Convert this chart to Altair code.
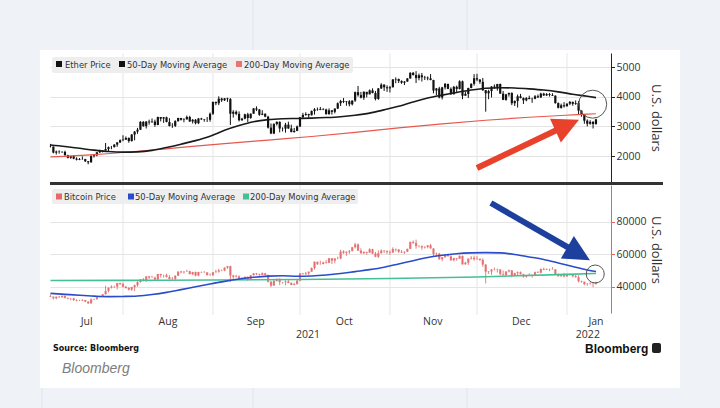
import altair as alt
import pandas as pd

# ---------------- data ----------------
first_day = "2021-07-07"
eth_prev_close = 2323
eth_close = [
    2317, 2115, 2150, 2140, 2140, 2030, 1940, 1995, 1910, 1875, 1900, 1895, 1820, 1785, 1995, 2025, 2125, 2190, 2190, 2235, 2300, 2300, 2385, 2460, 2535,
    2555, 2610, 2505, 2725, 2825, 2890, 3155, 3010, 3165, 3140, 3165, 3050, 3320, 3265, 3310, 3150, 3015, 3020, 3180, 3285, 3225, 3240, 3320, 3170, 3225, 3110, 3270, 3240, 3225, 3225, 3430,
    3830, 3785, 3940, 3885, 3950, 3925, 3430, 3495, 3425, 3210, 3265, 3410, 3285, 3430, 3610, 3570, 3395, 3430, 3330, 2960, 2760, 3080, 3155, 2930, 2925, 3060, 2930, 2810, 2850, 3000,
    3310, 3390, 3420, 3380, 3520, 3580, 3590, 3560, 3575, 3415, 3545, 3495, 3605, 3785, 3860, 3830, 3850, 3750, 3875, 4160, 4060, 3970, 4170, 4085, 4220, 4130, 3930, 4285, 4415, 4325, 4290,
    4325, 4590, 4605, 4535, 4480, 4520, 4620, 4815, 4740, 4635, 4730, 4665, 4650, 4625, 4570, 4215, 4285, 3980, 4320, 4440, 4270, 4090, 4340, 4270, 4525, 4040, 4100, 4300, 4440, 4630,
    4585, 4510, 4225, 4120, 4195, 4350, 4310, 4435, 4110, 3900, 4085, 4135, 3785, 3860, 4020, 3960, 3885, 3960, 3925, 3935, 4020, 3985, 4110, 4050, 4095, 4065, 4040, 3790, 3630, 3715, 3680,
    3770, 3830, 3765, 3790, 3535, 3410, 3195, 3090, 3155, 3080, 3240,
]
eth_high = [
    2410, 2320, 2185, 2190, 2165, 2180, 2040, 2005, 2035, 1955, 1930, 1985, 1905, 1830, 2030, 2045, 2130, 2215, 2200, 2440, 2320, 2340, 2400, 2470, 2560,
    2700, 2660, 2630, 2740, 2840, 2950, 3180, 3180, 3180, 3230, 3270, 3230, 3330, 3300, 3320, 3330, 3280, 3110, 3210, 3295, 3290, 3280, 3370, 3360, 3250, 3250, 3280, 3290, 3250, 3320, 3470,
    3840, 3840, 4020, 3970, 3960, 3970, 3960, 3550, 3540, 3510, 3290, 3430, 3460, 3440, 3620, 3680, 3590, 3550, 3440, 3360, 3100, 3110, 3170, 3170, 2970, 3120, 3160, 3060, 2950, 3030,
    3320, 3460, 3480, 3430, 3540, 3620, 3640, 3660, 3620, 3600, 3610, 3550, 3610, 3810, 3900, 3960, 3860, 3890, 3880, 4180, 4370, 4170, 4190, 4170, 4250, 4290, 4200, 4300, 4460, 4420, 4390,
    4370, 4600, 4660, 4620, 4560, 4530, 4640, 4830, 4840, 4870, 4790, 4810, 4710, 4690, 4770, 4580, 4300, 4340, 4340, 4470, 4440, 4320, 4370, 4380, 4560, 4550, 4180, 4310, 4460, 4770,
    4780, 4600, 4640, 4230, 4240, 4360, 4420, 4440, 4450, 4200, 4100, 4140, 4150, 3880, 4080, 4100, 3980, 3990, 4040, 3970, 4060, 4080, 4140, 4140, 4130, 4130, 4125, 4050, 3810, 3770, 3820,
    3780, 3860, 3840, 3880, 3860, 3540, 3420, 3240, 3210, 3180, 3260,
]
eth_low = [
    2290, 2090, 2050, 2080, 2100, 2010, 1920, 1905, 1890, 1850, 1860, 1875, 1800, 1720, 1780, 1950, 1990, 2100, 2120, 2180, 2160, 2230, 2290, 2310, 2440,
    2500, 2540, 2450, 2490, 2530, 2750, 2880, 2990, 2930, 3060, 3130, 2990, 3040, 3170, 3120, 3140, 3000, 2950, 2980, 3160, 3200, 3140, 3230, 3150, 3100, 3070, 3080, 3220, 3160, 3150, 3160,
    3390, 3720, 3720, 3830, 3860, 3830, 3050, 3300, 3380, 3170, 3190, 3240, 3150, 3260, 3430, 3520, 3360, 3380, 3310, 2930, 2740, 2740, 3030, 2800, 2830, 2790, 2920, 2800, 2790, 2840,
    2980, 3290, 3360, 3280, 3370, 3400, 3530, 3550, 3550, 3400, 3400, 3400, 3440, 3590, 3690, 3790, 3700, 3680, 3710, 3830, 4010, 3950, 3900, 3980, 4090, 4120, 3880, 3900, 4270, 4200, 4170,
    4150, 4320, 4460, 4470, 4440, 4400, 4510, 4620, 4720, 4470, 4560, 4520, 4570, 4560, 4560, 4120, 4060, 3950, 3910, 4250, 4260, 4070, 4080, 4160, 4250, 3920, 4040, 3960, 4290, 4380,
    4530, 4440, 4200, 3500, 3920, 3980, 4280, 4210, 4100, 3890, 3870, 4010, 3720, 3690, 3640, 3950, 3760, 3850, 3920, 3800, 3920, 3960, 3960, 4030, 4030, 4010, 4030, 3770, 3610, 3600, 3640,
    3680, 3720, 3700, 3730, 3420, 3330, 3090, 3000, 3060, 2930, 3060,
]

btc_prev_close = 34240
btc_close = [
    33860, 32880, 33810, 33515, 34260, 33090, 32730, 32820, 31780, 31420, 31530, 31800, 30840, 29790, 32140, 32310, 33580, 34290, 35350, 37340, 39410, 39990, 40020, 42240, 41630,
    39970, 39200, 38150, 39740, 40870, 42830, 44560, 43800, 46370, 45590, 45590, 44430, 47810, 47100, 47050, 45940, 44700, 44800, 46720, 49340, 48870, 49290, 49510, 47710, 48990, 46850, 49070, 48900, 48830, 47050, 47170,
    48850, 49280, 50030, 49940, 51750, 52660, 46860, 46080, 46370, 44850, 45170, 46060, 44960, 47090, 48180, 47780, 47290, 48280, 47260, 43000, 40690, 43580, 44880, 42840, 42720, 43210, 42230, 41030, 41530, 43790,
    48170, 47780, 48240, 49250, 51520, 55340, 53810, 53970, 54970, 54660, 57480, 56040, 57400, 57360, 61670, 60880, 61530, 62030, 64260, 65990, 62210, 60690, 61390, 60930, 63040, 60360, 58480, 60620, 62230, 61890, 61320,
    61000, 63230, 62940, 61450, 61010, 61530, 63330, 67570, 66970, 64990, 64950, 64160, 64470, 65470, 63560, 60160, 60370, 56940, 58120, 59700, 58730, 56290, 57570, 57230, 58950, 53730, 54720, 57270, 57810, 56950,
    57220, 56510, 53600, 49200, 49370, 50580, 50470, 50640, 47590, 47140, 49390, 50050, 46700, 48340, 48860, 47640, 46200, 46850, 46710, 46880, 48940, 48630, 50820, 50430, 50810, 50640, 50700, 47540, 46460, 47120, 46310,
    47690, 47350, 46460, 45830, 43420, 43080, 41560, 41730, 41910, 41820, 42740,
]
btc_high = [
    35060, 33930, 34060, 34250, 34600, 34650, 33340, 33100, 33170, 32250, 31950, 32400, 31890, 31040, 32820, 32560, 33650, 34480, 35400, 40550, 39540, 40880, 40630, 42280, 42410,
    42540, 40420, 39770, 39950, 41330, 43350, 44700, 45290, 46450, 46640, 46740, 46220, 47880, 47970, 47370, 48050, 47120, 46010, 47050, 49370, 49750, 49470, 50470, 49820, 49190, 49320, 49180, 49300, 49600, 48880, 48240,
    48980, 50340, 51040, 50540, 51870, 52780, 52860, 47320, 47360, 47010, 45940, 46420, 46350, 47220, 48430, 48460, 48060, 48780, 48340, 47290, 43560, 44000, 44980, 45090, 42920, 43890, 44310, 42720, 42550, 44030,
    48380, 48340, 49130, 49340, 51880, 55580, 55290, 56060, 55420, 56450, 57760, 57660, 57480, 58490, 62820, 62400, 61670, 62560, 64460, 67000, 66620, 63660, 61720, 61550, 63640, 63310, 61460, 62400, 62920, 62330, 62400,
    62400, 64230, 63480, 63120, 62550, 61590, 63340, 67720, 68520, 68990, 65590, 65430, 64900, 65470, 66360, 63560, 60960, 60840, 58200, 59830, 60000, 59260, 57780, 57740, 59330, 59170, 55320, 57400, 58830, 59120,
    59030, 57300, 57510, 53840, 49650, 50860, 51860, 51140, 50670, 50000, 49420, 50550, 50180, 48670, 49420, 49390, 47960, 47300, 48300, 47510, 49300, 49560, 51300, 51750, 51180, 51130, 52040, 50700, 48110, 47850, 48500,
    47880, 47940, 47520, 47470, 47020, 43720, 43140, 42270, 42770, 42220, 43100,
]
btc_low = [
    33770, 32130, 32260, 33030, 33330, 32700, 32260, 31600, 31180, 31050, 31180, 31220, 30500, 29300, 29480, 31720, 32000, 33400, 33880, 35210, 36440, 38860, 39290, 38340, 41030,
    39540, 38750, 37640, 37510, 37360, 39960, 42500, 43310, 42860, 44800, 45380, 43820, 44280, 45620, 45580, 45680, 44460, 44290, 43970, 46660, 48300, 48130, 49180, 47650, 47200, 46340, 46440, 48460, 48470, 46980, 46750,
    46560, 48730, 48660, 49530, 49490, 50970, 42900, 44480, 45670, 44300, 44780, 44790, 43640, 44780, 46890, 47110, 46800, 47120, 46930, 42580, 39730, 40620, 43170, 40950, 41860, 40870, 42210, 40940, 40830, 41440,
    43340, 47460, 47200, 46960, 49150, 50540, 53440, 53640, 53700, 54150, 54480, 53910, 54360, 56880, 56830, 60220, 58990, 60200, 61620, 63540, 62050, 60100, 59980, 59670, 60860, 60020, 58100, 57670, 60270, 60700, 60100,
    59530, 60770, 61620, 60850, 60830, 60150, 61420, 63170, 66300, 63400, 64130, 62720, 63480, 63630, 63420, 58680, 58450, 56580, 55680, 57800, 58600, 55940, 55640, 55950, 57110, 53680, 53670, 53390, 56720, 55950,
    56500, 55880, 52230, 42000, 47870, 47250, 50060, 48710, 47410, 46940, 46700, 48790, 45760, 46530, 46680, 47560, 45520, 45580, 46470, 45590, 46650, 48450, 48080, 50200, 50300, 49510, 50470, 47350, 46150, 46070, 45690,
    46260, 46770, 45730, 45620, 42650, 42470, 40940, 40630, 41280, 39700, 41280,
]

ma50_dates = [
    "2021-07-07", "2021-07-12", "2021-07-17", "2021-07-22", "2021-07-27", "2021-08-01", "2021-08-06", "2021-08-11",
    "2021-08-16", "2021-08-21", "2021-08-26", "2021-08-31", "2021-09-05", "2021-09-10", "2021-09-15", "2021-09-20",
    "2021-09-25", "2021-09-30", "2021-10-05", "2021-10-10", "2021-10-15", "2021-10-20", "2021-10-25", "2021-10-30",
    "2021-11-04", "2021-11-09", "2021-11-14", "2021-11-19", "2021-11-24", "2021-11-29", "2021-12-04", "2021-12-09",
    "2021-12-14", "2021-12-19", "2021-12-24", "2021-12-29", "2022-01-03", "2022-01-08", "2022-01-11",
]
eth_ma50 = [2370, 2320, 2260, 2200, 2150, 2130, 2140, 2190, 2290, 2400, 2520, 2670, 2870, 3030, 3160, 3230, 3260, 3270, 3280, 3300,
            3330, 3380, 3450, 3560, 3680, 3830, 3960, 4060, 4150, 4230, 4290, 4310, 4300, 4270, 4230, 4170, 4090, 4020, 3975]
btc_ma50 = [35900, 35300, 34700, 34200, 33900, 34000, 34300, 35200, 36500, 38200, 40000, 41700, 43300, 44700, 45800, 46500, 46700, 46400, 46600, 47200,
            48100, 49300, 50500, 52000, 54000, 56000, 58000, 59400, 60300, 60800, 61000, 60800, 59800, 58300, 56700, 54600, 52400, 50300, 49400]

eth_ma200_dates = ["2021-07-07", "2021-07-22", "2021-08-06", "2021-08-21", "2021-09-05", "2021-09-20", "2021-10-05",
                   "2021-10-20", "2021-11-04", "2021-11-19", "2021-12-04", "2021-12-19", "2022-01-03", "2022-01-11"]
eth_ma200 = [1970, 2050, 2160, 2290, 2420, 2540, 2660, 2800, 2950, 3090, 3210, 3310, 3390, 3430]

btc_ma200_dates = ["2021-07-07", "2021-08-01", "2021-09-01", "2021-10-01", "2021-11-01", "2021-12-01", "2022-01-01", "2022-01-11"]
btc_ma200 = [43800, 43900, 44100, 44400, 45000, 46000, 47600, 48200]

month_starts = ["2021-08-01", "2021-09-01", "2021-10-01", "2021-11-01", "2021-12-01", "2022-01-01"]
month_labels = ["Jul", "Aug", "Sep", "Oct", "Nov", "Dec", "Jan"]
month_label_dates = ["2021-07-19T12:00", "2021-08-16T12:00", "2021-09-15T18:00", "2021-10-16T06:00",
                     "2021-11-15T18:00", "2021-12-16T06:00", "2022-01-11T00:00"]
year_labels = ["2021", "2022"]
year_label_dates = ["2021-10-03T18:00", "2022-01-08T05:00"]

eth_ticks = [2000, 3000, 4000, 5000]
btc_ticks = [40000, 60000, 80000]

# annotations (data coordinates)
red_arrow = {"d1": "2021-12-01T00:00", "v1": 1594, "d2": "2021-12-29T14:00", "v2": 2930}
red_tip = {"d": "2022-01-05T04:00", "v": 3227}
blue_arrow = {"d1": "2021-12-05T19:00", "v1": 91500, "d2": "2022-01-02T17:00", "v2": 62770}
blue_tip = {"d": "2022-01-08T22:00", "v": 56300}
eth_circle = {"d": "2022-01-09T21:00", "v": 3753}
btc_circle = {"d": "2022-01-10T18:00", "v": 47815}

# ---------------- tables ----------------
days = pd.date_range(first_day, periods=len(eth_close), freq="D")
eth = pd.DataFrame({"date": days, "open": [eth_prev_close] + eth_close[:-1], "close": eth_close,
                    "high": eth_high, "low": eth_low})
btc = pd.DataFrame({"date": days, "open": [btc_prev_close] + btc_close[:-1], "close": btc_close,
                    "high": btc_high, "low": btc_low})
eth50 = pd.DataFrame({"date": pd.to_datetime(ma50_dates), "v": eth_ma50})
btc50 = pd.DataFrame({"date": pd.to_datetime(ma50_dates), "v": btc_ma50})
eth200 = pd.DataFrame({"date": pd.to_datetime(eth_ma200_dates), "v": eth_ma200})
btc200 = pd.DataFrame({"date": pd.to_datetime(btc_ma200_dates), "v": btc_ma200})
grid_df = pd.DataFrame({"date": pd.to_datetime(month_starts)})
months_df = pd.DataFrame({"date": pd.to_datetime(month_label_dates), "label": month_labels})
years_df = pd.DataFrame({"date": pd.to_datetime(year_label_dates), "label": year_labels})
one = pd.DataFrame({"k": [0]})


def seg(a):
    return pd.DataFrame({"d1": [pd.Timestamp(a["d1"])], "v1": [a["v1"]], "d2": [pd.Timestamp(a["d2"])], "v2": [a["v2"]]})


def pt(a):
    return pd.DataFrame({"d": [pd.Timestamp(a["d"])], "v": [a["v"]]})


# ---------------- scales ----------------
xs = alt.Scale(domain=[alt.DateTime(year=2021, month=7, date=6, hours=20, minutes=11),
                       alt.DateTime(year=2022, month=1, date=16, hours=4, minutes=20)])
ys_top = alt.Scale(domain=[1087, 5484], range=[130, 0], nice=False, zero=False)
ys_bot = alt.Scale(domain=[23815, 102585], range=[260, 132], nice=False, zero=False)

LBL = "Open Sans"
top_axis = alt.Axis(orient="right", values=eth_ticks, format="d", grid=True, gridColor="#e4e4e4",
                    domainColor="#222222", tickColor="#222222", tickSize=3.5, labelFont=LBL,
                    labelFontSize=10.5, labelColor="#333333", labelPadding=1.5, title=None)
bot_axis = alt.Axis(orient="right", values=btc_ticks, format="d", grid=True, gridColor="#e4e4e4",
                    domainColor="#e26464", tickColor="#e26464", tickSize=3.5, labelFont=LBL,
                    labelFontSize=10.5, labelColor="#333333", labelPadding=1.5, title=None)

X = lambda f="date": alt.X(f"{f}:T", scale=xs, axis=None)


def vrect(x1, x2, y1, y2, color, **kw):
    return alt.Chart(one).mark_rect(color=color, **kw).encode(
        x=alt.value(x1), x2=alt.value(x2), y=alt.value(y1), y2=alt.value(y2))


def vtext(s, x, y, size, color="#333333", font="DejaVu Sans", weight="normal", style="normal",
          align="left", angle=0):
    return alt.Chart(one).mark_text(text=s, align=align, baseline="middle", font=font, fontSize=size,
                                    fontWeight=weight, fontStyle=style, color=color, angle=angle).encode(
        x=alt.value(x), y=alt.value(y))


PAGE = "#eff2f6"
layers = []
# page surround
layers += [
    vrect(-50, 670, -53, -3, PAGE),
    vrect(-50, 670, 335, 355, PAGE),
    vrect(-50, -10, -3, 335, PAGE),
    vrect(630, 670, -3, 335, PAGE),
]
for xv in [203, 417]:
    layers.append(alt.Chart(one).mark_rule(color="#e1e6ec", strokeWidth=1).encode(
        x=alt.value(xv), y=alt.value(-53), y2=alt.value(-3)))
    layers.append(alt.Chart(one).mark_rule(color="#e1e6ec", strokeWidth=1).encode(
        x=alt.value(xv), y=alt.value(335), y2=alt.value(355)))
layers.append(alt.Chart(one).mark_rule(color="#e1e6ec", strokeWidth=1).encode(
    x=alt.value(-8), y=alt.value(335), y2=alt.value(355)))

# vertical month gridlines
layers.append(alt.Chart(grid_df).mark_rule(color="#e6e6e6", strokeWidth=1).encode(
    x=X(), y=alt.value(0), y2=alt.value(262)))

# ETH candles + averages
layers.append(alt.Chart(eth).mark_rule(color="#111111", strokeWidth=1).encode(
    x=X(), y=alt.Y("low:Q", scale=ys_top, axis=top_axis), y2="high:Q"))
layers.append(alt.Chart(eth).mark_rule(color="#111111", strokeWidth=2.2).encode(
    x=X(), y=alt.Y("open:Q", scale=ys_top, axis=None), y2="close:Q"))
layers.append(alt.Chart(eth200).mark_line(color="#e8574f", strokeWidth=1.2, interpolate="monotone").encode(
    x=X(), y=alt.Y("v:Q", scale=ys_top, axis=None)))
layers.append(alt.Chart(eth50).mark_line(color="#1a1a1a", strokeWidth=1.6, interpolate="monotone").encode(
    x=X(), y=alt.Y("v:Q", scale=ys_top, axis=None)))

# BTC candles + averages
BTC_C = "#e26a6a"
layers.append(alt.Chart(btc).mark_rule(color=BTC_C, strokeWidth=1, opacity=0.85).encode(
    x=X(), y=alt.Y("low:Q", scale=ys_bot, axis=bot_axis), y2="high:Q"))
layers.append(alt.Chart(btc).mark_rule(color=BTC_C, strokeWidth=2.2, opacity=0.85).encode(
    x=X(), y=alt.Y("open:Q", scale=ys_bot, axis=None), y2="close:Q"))
layers.append(alt.Chart(btc200).mark_line(color="#45c095", strokeWidth=1.6, interpolate="monotone").encode(
    x=X(), y=alt.Y("v:Q", scale=ys_bot, axis=None)))
layers.append(alt.Chart(btc50).mark_line(color="#2a4ccc", strokeWidth=1.6, interpolate="monotone").encode(
    x=X(), y=alt.Y("v:Q", scale=ys_bot, axis=None)))

# separator between panels
layers.append(alt.Chart(one).mark_rule(color="#333333", strokeWidth=3).encode(
    x=alt.value(0), x2=alt.value(613), y=alt.value(130.5)))

# month / year labels
layers.append(alt.Chart(months_df).mark_text(font=LBL, fontSize=10.5, color="#333333", baseline="middle").encode(
    x=X(), y=alt.value(269), text="label:N"))
layers.append(alt.Chart(years_df).mark_text(font=LBL, fontSize=10.5, color="#333333", baseline="middle").encode(
    x=X(), y=alt.value(282), text="label:N"))

# axis titles
layers.append(vtext("U.S. dollars", 606, 65, 13, font=LBL, align="center", angle=90))
layers.append(vtext("U.S. dollars", 606, 197, 13, font=LBL, align="center", angle=90))

# legends
LEG = 8.4
layers += [
    vrect(2, 303, 4, 20, "#eeeeee", cornerRadius=2),
    vrect(6, 12, 8, 14, "#111111"), vtext("Ether Price", 15, 11.5, LEG),
    vrect(69, 75, 8, 14, "#111111"), vtext("50-Day Moving Average", 77, 11.5, LEG),
    vrect(186, 192, 8, 14, "#e8736f"), vtext("200-Day Moving Average", 194, 11.5, LEG),
    vrect(2, 308, 136, 151, "#eeeeee", cornerRadius=2),
    vrect(6, 12, 140.5, 146.5, "#e26a6a"), vtext("Bitcoin Price", 14, 143.5, LEG),
    vrect(78, 84, 140.5, 146.5, "#2a4ccc"), vtext("50-Day Moving Average", 85, 143.5, LEG),
    vrect(193, 199, 140.5, 146.5, "#45c095"), vtext("200-Day Moving Average", 200, 143.5, LEG),
]

# annotations
layers.append(alt.Chart(seg(red_arrow)).mark_rule(color="#e8412c", strokeWidth=6).encode(
    x=X("d1"), x2="d2:T", y=alt.Y("v1:Q", scale=ys_top, axis=None), y2="v2:Q"))
layers.append(alt.Chart(pt(red_tip)).mark_point(shape="M0,0 L0.5,1 L-0.5,1 Z", filled=True, size=2704,
                                                 angle=65.3, color="#e8412c", opacity=1, strokeWidth=0).encode(
    x=X("d"), y=alt.Y("v:Q", scale=ys_top, axis=None)))
layers.append(alt.Chart(seg(blue_arrow)).mark_rule(color="#1d3f9e", strokeWidth=6).encode(
    x=X("d1"), x2="d2:T", y=alt.Y("v1:Q", scale=ys_bot, axis=None), y2="v2:Q"))
layers.append(alt.Chart(pt(blue_tip)).mark_point(shape="M0,0 L0.5,1 L-0.5,1 Z", filled=True, size=2704,
                                                  angle=119.9, color="#1d3f9e", opacity=1, strokeWidth=0).encode(
    x=X("d"), y=alt.Y("v:Q", scale=ys_bot, axis=None)))
layers.append(alt.Chart(pt(eth_circle)).mark_point(shape="circle", filled=False, size=784, color="#555555",
                                                   strokeWidth=1, opacity=1).encode(
    x=X("d"), y=alt.Y("v:Q", scale=ys_top, axis=None)))
layers.append(alt.Chart(pt(btc_circle)).mark_point(shape="circle", filled=False, size=324, color="#555555",
                                                   strokeWidth=1, opacity=1).encode(
    x=X("d"), y=alt.Y("v:Q", scale=ys_bot, axis=None)))

# footer
layers += [
    vtext("Source: Bloomberg", 3, 296, 8, color="#111111", weight="bold"),
    vtext("Bloomberg", 535, 295.5, 12, color="#111111", font="Liberation Sans", weight="bold"),
    vrect(602, 611, 290, 300, "#222222", cornerRadius=2),
    vtext("Bloomberg", 12, 316, 14, color="#7d7d7d", font="Liberation Sans", style="italic"),
]

chart = alt.layer(*layers).resolve_scale(y="independent").properties(
    width=561, height=260,
    autosize=alt.AutoSizeParams(type="none"),
    padding={"left": 50, "top": 53, "right": 109, "bottom": 95},
    background="white",
).configure_view(stroke=None)

chart.save("out.html", embed_options={"renderer": "svg", "actions": False})
